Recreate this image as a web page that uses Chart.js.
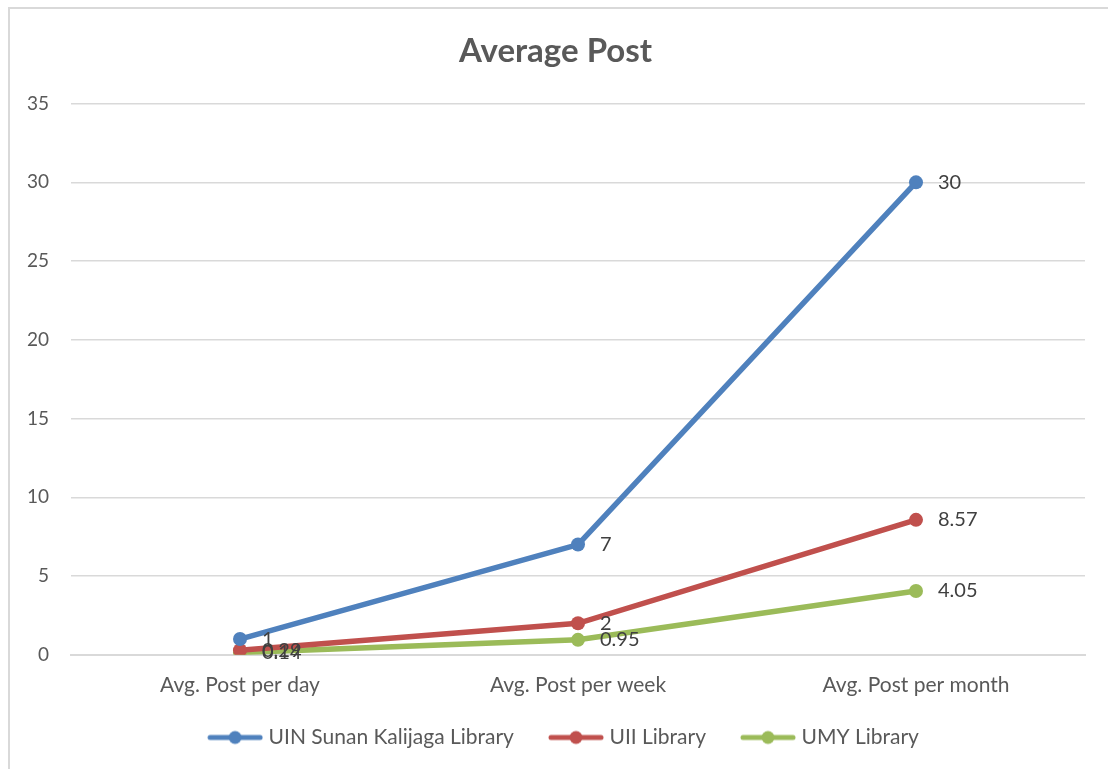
<!DOCTYPE html>
<html>
<head>
<meta charset="utf-8">
<script src="https://cdn.jsdelivr.net/npm/chart.js@4"></script>
<style>
    html, body { margin: 0; padding: 0; background: #fff; }
    #cadre {
        position: absolute; left: 0; top: 0;
        width: 1108px; height: 769px; overflow: hidden;
    }
    #bord {
        position: absolute; left: 8px; top: 7px;
        width: 1120px; height: 800px;
        border: 2px solid #d9d9d9; box-sizing: border-box;
    }
    canvas { position: absolute; left: 0; top: 0; }
</style>
</head>
<body>
<div id="cadre">
    <div id="bord"></div>
    <canvas id="graphique-posts" width="1108" height="769"></canvas>
</div>
<script>
const categories = ["Avg. Post per day", "Avg. Post per week", "Avg. Post per month"];
const uinSunanKalijaga = [1, 7, 30];
const uiiLibrary = [0.29, 2, 8.57];
const umyLibrary = [0.14, 0.95, 4.05];
const ticksY = [0, 5, 10, 15, 20, 25, 30, 35];

const couleurs = ["#4f81bd", "#c0504d", "#9bbb59"];
const police = "Lato, 'Open Sans', sans-serif";

// Marqueur de légende : trait + rond, avec une marge transparente à gauche
function marqueur (couleur) {
    const c = document.createElement("canvas");
    c.width = 76;
    c.height = 16;
    const ctx = c.getContext("2d");
    ctx.strokeStyle = couleur;
    ctx.lineWidth = 5;
    ctx.lineCap = "round";
    ctx.beginPath();
    ctx.moveTo(23, 8);
    ctx.lineTo(73, 8);
    ctx.stroke();
    ctx.fillStyle = couleur;
    ctx.beginPath();
    ctx.arc(48, 8, 6.5, 0, Math.PI * 2);
    ctx.fill();
    return c;
}

// Étiquettes de valeurs à droite des points
const etiquettes = {
    id: "etiquettes",
    afterDatasetsDraw (chart) {
        const ctx = chart.ctx;
        ctx.save();
        ctx.font = "20px " + police;
        ctx.fillStyle = "#404040";
        ctx.textAlign = "left";
        ctx.textBaseline = "middle";
        chart.data.datasets.forEach((ds, i) => {
            const meta = chart.getDatasetMeta(i);
            meta.data.forEach((pt, j) => {
                ctx.fillText(String(ds.data[j]), pt.x + 22, pt.y);
            });
        });
        ctx.restore();
    }
};

const series = [
    { label: "UIN Sunan Kalijaga Library", data: uinSunanKalijaga },
    { label: "UII Library", data: uiiLibrary },
    { label: "UMY Library", data: umyLibrary }
];

const data = {
    labels: categories,
    datasets: series.map((s, i) => ({
        label: s.label,
        data: s.data,
        borderColor: couleurs[i],
        backgroundColor: couleurs[i],
        borderWidth: 5.5,
        pointRadius: 7,
        pointBorderWidth: 0,
        pointHoverRadius: 7,
        pointStyle: "circle",
        tension: 0
    }))
};

const config = {
    type: "line",
    data: data,
    plugins: [etiquettes],
    options: {
        responsive: false,
        animation: false,
        layout: { padding: { left: 26, right: 23, top: 10, bottom: 11 } },
        plugins: {
            title: {
                display: true,
                text: "Average Post",
                color: "#595959",
                font: { family: police, size: 33, weight: "bold" },
                padding: { top: 22, bottom: 32 }
            },
            legend: {
                position: "bottom",
                labels: {
                    color: "#595959",
                    font: { family: police, size: 21 },
                    usePointStyle: true,
                    pointStyleWidth: 66,
                    padding: 19,
                    generateLabels: (chart) => chart.data.datasets.map((ds, i) => ({
                        text: ds.label,
                        pointStyle: marqueur(couleurs[i]),
                        fillStyle: couleurs[i],
                        strokeStyle: couleurs[i],
                        lineWidth: 0,
                        fontColor: "#595959",
                        datasetIndex: i
                    }))
                }
            },
            tooltip: { enabled: false }
        },
        scales: {
            x: {
                offset: true,
                grid: { display: false },
                border: { color: "#d9d9d9", width: 2 },
                ticks: {
                    color: "#595959",
                    font: { family: police, size: 21 },
                    padding: 10
                }
            },
            y: {
                min: 0,
                max: 35,
                afterBuildTicks: (axis) => { axis.ticks = ticksY.map(v => ({ value: v })); },
                afterFit: (axis) => { axis.width = 45; },
                grid: { color: "#d9d9d9", lineWidth: 1.5, drawTicks: false },
                border: { display: false },
                ticks: {
                    color: "#595959",
                    font: { family: police, size: 19 },
                    padding: 22
                }
            }
        }
    }
};

new Chart(document.getElementById("graphique-posts"), config);
</script>
</body>
</html>
